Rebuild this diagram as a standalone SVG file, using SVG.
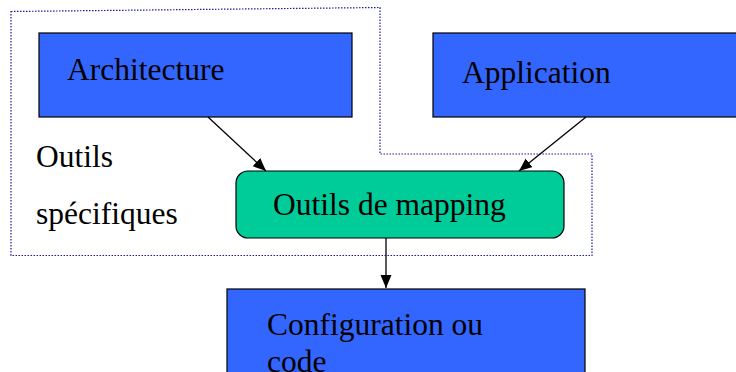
<svg xmlns="http://www.w3.org/2000/svg" width="736" height="372" viewBox="0 0 736 372">
  <style>
    .box { fill: #3366FF; stroke: #000; stroke-width: 1.2; }
    .map { fill: #00CC99; stroke: #000; stroke-width: 1.2; }
    .lbl { font-family: "Liberation Serif", "Times New Roman", serif; font-size: 31.5px; fill: #000; }
    .edge { stroke: #000; stroke-width: 1.3; fill: none; marker-end: url(#head); }
    .zone { fill: none; stroke: #1a1a99; stroke-width: 1.2; stroke-dasharray: 1.5 1.5; }
  </style>
  <defs>
    <marker id="head" markerUnits="userSpaceOnUse" markerWidth="14" markerHeight="12" refX="13" refY="5.5" orient="auto">
      <path d="M0,0 L13,5.5 L0,11 Z" fill="#000"/>
    </marker>
  </defs>

  <!-- dotted zone around the specific tools -->
  <g id="zone">
    <polygon class="zone" points="11,11.5 380,7.5 380,154 592,154 592,255.5 11,255.5"/>
    <text class="lbl" x="36" y="167">Outils</text>
    <text class="lbl" x="36" y="224">spécifiques</text>
  </g>

  <g id="architecture">
    <rect class="box" x="39" y="33" width="313" height="84"/>
    <text class="lbl" x="67" y="80">Architecture</text>
  </g>

  <g id="application">
    <rect class="box" x="433" y="33" width="310" height="84"/>
    <text class="lbl" x="462" y="83">Application</text>
  </g>

  <g id="mapping">
    <rect class="map" x="236" y="171" width="328" height="67" rx="12" ry="12"/>
    <text class="lbl" x="273" y="215">Outils de mapping</text>
  </g>

  <g id="configuration">
    <rect class="box" x="227" y="289" width="358" height="100"/>
    <text class="lbl" x="267" y="335">Configuration ou</text>
    <text class="lbl" x="267" y="372">code</text>
  </g>

  <g id="connectors">
    <line class="edge" x1="208" y1="117" x2="266" y2="171"/>
    <line class="edge" x1="586" y1="117" x2="519" y2="171"/>
    <line class="edge" x1="386" y1="238" x2="386" y2="288"/>
  </g>
</svg>
